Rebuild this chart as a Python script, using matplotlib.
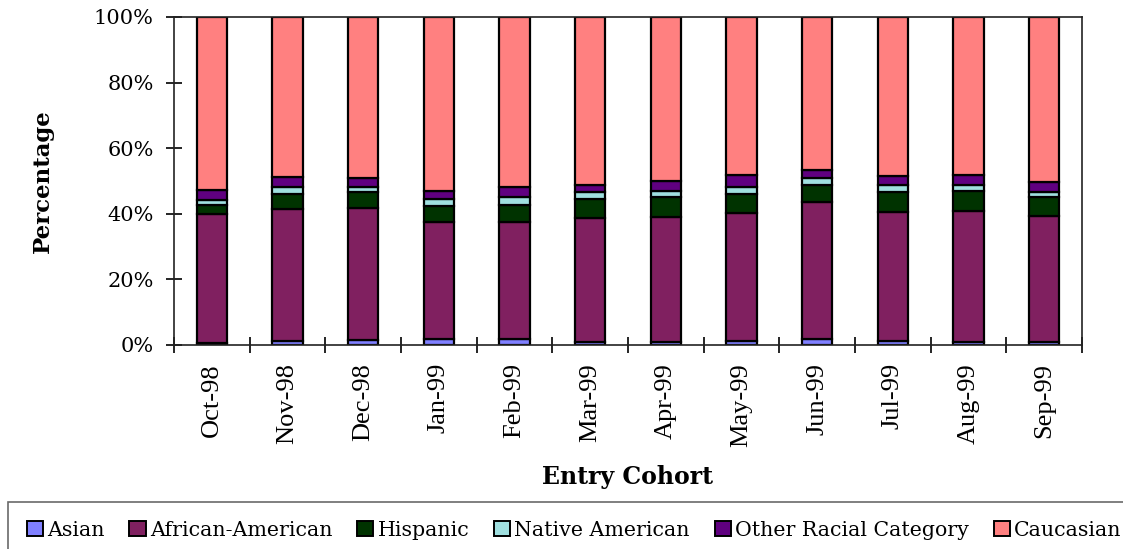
import matplotlib
matplotlib.use("Agg")
import matplotlib.pyplot as plt
from matplotlib.ticker import PercentFormatter, FixedLocator
from matplotlib.patches import Patch
import numpy as np

cohorts = ["Oct-98", "Nov-98", "Dec-98", "Jan-99", "Feb-99", "Mar-99",
           "Apr-99", "May-99", "Jun-99", "Jul-99", "Aug-99", "Sep-99"]

asian = [0.5, 1.2, 1.5, 1.8, 1.8, 0.8, 1.0, 1.3, 1.8, 1.2, 0.8, 0.8]
african_american = [39.3, 40.3, 40.4, 35.8, 35.7, 37.8, 38.0, 38.8, 41.9, 39.4, 40.2, 38.5]
hispanic = [2.9, 4.5, 4.6, 4.8, 5.3, 5.8, 6.0, 6.0, 5.2, 6.1, 6.0, 5.8]
native_american = [1.6, 2.2, 1.7, 2.2, 2.3, 2.1, 2.0, 2.1, 2.0, 2.1, 1.7, 1.5]
other_racial = [3.1, 3.1, 2.7, 2.4, 3.0, 2.4, 3.0, 3.5, 2.5, 2.8, 3.0, 3.1]
caucasian = [52.6, 48.7, 49.1, 53.0, 51.9, 51.1, 50.0, 48.3, 46.6, 48.4, 48.3, 50.3]

series = [
    ("Asian", asian, "#8080FF"),
    ("African-American", african_american, "#802060"),
    ("Hispanic", hispanic, "#003300"),
    ("Native American", native_american, "#A0E0E0"),
    ("Other Racial Category", other_racial, "#600080"),
    ("Caucasian", caucasian, "#FF8080"),
]

SERIF = ["DejaVu Serif"]
TIMES = ["Liberation Serif"]

fig = plt.figure(figsize=(11.23, 5.49), dpi=100)
ax = fig.add_axes([174 / 1123, 1 - 345 / 549, (1082 - 174) / 1123, (345 - 17) / 549])

x = np.arange(len(cohorts))
totals = np.sum([s[1] for s in series], axis=0)
bottom = np.zeros(len(cohorts))
for name, vals, color in series:
    share = np.array(vals) / totals * 100
    ax.bar(x, share, width=0.405, bottom=bottom, color=color,
           edgecolor="black", linewidth=1.6, label=name)
    bottom += share

ax.set_xlim(-0.5, len(cohorts) - 0.5)
ax.set_ylim(0, 100)
ax.yaxis.set_major_formatter(PercentFormatter(decimals=0))
ax.set_yticks(np.arange(0, 101, 20))

ax.set_xticks(x)
ax.set_xticklabels(cohorts, rotation=90, fontsize=19, family=TIMES)
ax.xaxis.set_minor_locator(FixedLocator(np.arange(-0.5, len(cohorts), 1.0)))
ax.tick_params(axis="x", which="major", length=0, pad=13)
ax.tick_params(axis="x", which="minor", direction="inout", length=11.5, width=1.2)
ax.tick_params(axis="y", which="major", direction="inout", length=11.5, width=1.2,
               labelsize=15, pad=9)
for lbl in ax.get_yticklabels():
    lbl.set_family(SERIF)

for sp in ax.spines.values():
    sp.set_linewidth(1.2)
    sp.set_color("#222222")

ax.set_ylabel("Percentage", fontsize=16.5, fontweight="bold", family=SERIF)
ax.yaxis.set_label_coords(-0.132, 0.5)
ax.set_xlabel("Entry Cohort", fontsize=17, fontweight="bold", family=SERIF)
ax.xaxis.set_label_coords(0.5, -0.366)

handles = [Patch(facecolor=c, edgecolor="black", linewidth=1.4, label=n) for n, _, c in series]
leg = fig.legend(handles=handles, loc="upper left", bbox_to_anchor=(8 / 1123, 1 - 502 / 549),
                 ncol=6, frameon=True, fancybox=False,
                 prop={"family": "DejaVu Serif", "size": 14.8},
                 handlelength=0.8, handleheight=0.8, handletextpad=0.2,
                 columnspacing=1.2, borderpad=0.9, borderaxespad=0,
                 edgecolor="#444444")
leg.get_frame().set_linewidth(1.2)

fig.savefig("out.png", dpi=100)
